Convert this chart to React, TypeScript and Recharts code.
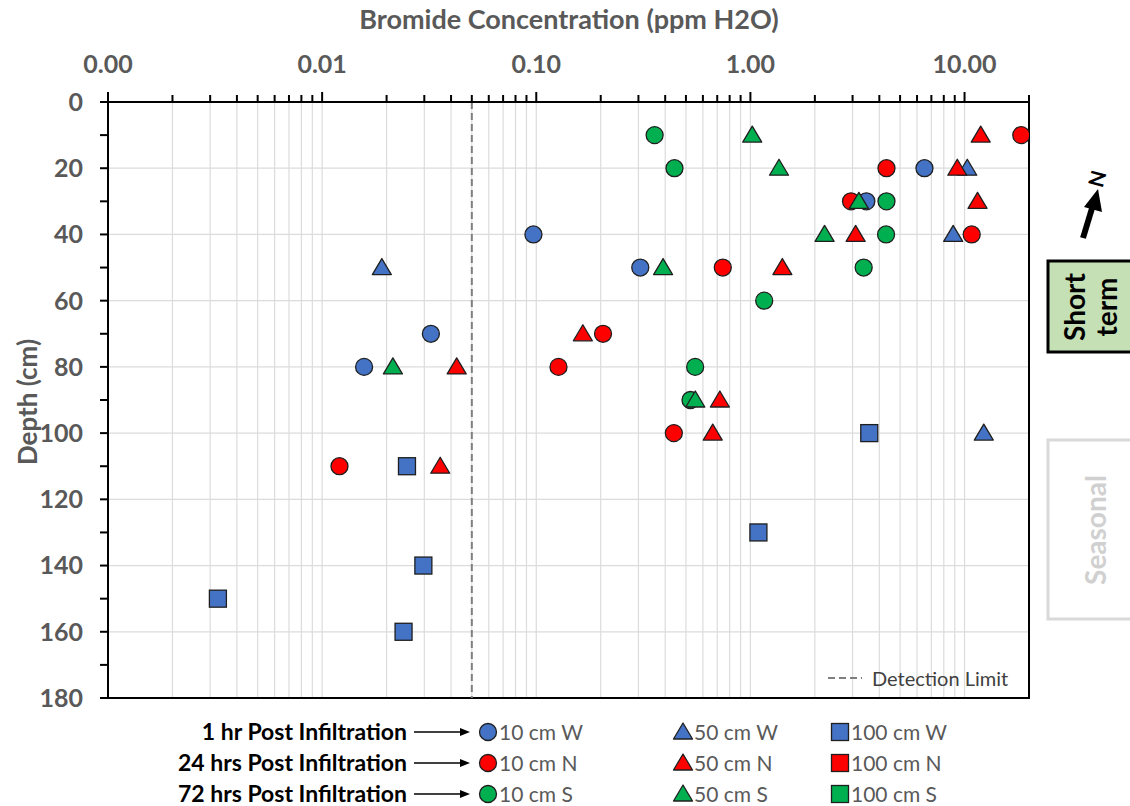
import React from 'react';
import {
  ScatterChart,
  Scatter,
  XAxis,
  YAxis,
  CartesianGrid,
  ReferenceLine,
  ReferenceArea,
} from 'recharts';

// ---------- data ----------
const W10_DEPTH = [20, 30, 40, 50, 70, 80];
const W10_CONC = [6.5, 3.48, 0.097, 0.306, 0.0322, 0.0157];

const W50_DEPTH = [20, 40, 50, 100];
const W50_CONC = [10.3, 8.85, 0.019, 12.3];

const W100_DEPTH = [100, 110, 130, 140, 150, 160];
const W100_CONC = [3.59, 0.0249, 1.09, 0.0297, 0.00326, 0.024];

const N10_DEPTH = [10, 20, 30, 40, 50, 70, 80, 100, 110];
const N10_CONC = [18.4, 4.32, 2.95, 10.8, 0.743, 0.205, 0.127, 0.439, 0.01205];

const N50_DEPTH = [10, 20, 30, 40, 50, 70, 80, 90, 100, 110];
const N50_CONC = [11.9, 9.25, 11.5, 3.1, 1.41, 0.165, 0.0425, 0.72, 0.667, 0.0356];

const N100_DEPTH: number[] = [];
const N100_CONC: number[] = [];

const S10_DEPTH = [10, 20, 30, 40, 50, 60, 80, 90];
const S10_CONC = [0.357, 0.442, 4.32, 4.3, 3.38, 1.16, 0.552, 0.525];

const S50_DEPTH = [10, 20, 30, 40, 50, 80, 90];
const S50_CONC = [1.02, 1.36, 3.21, 2.22, 0.391, 0.0214, 0.553];

const S100_DEPTH: number[] = [];
const S100_CONC: number[] = [];

const DETECTION_LIMIT = 0.05;

const X_TICKS = [
  0.001, 0.002, 0.003, 0.004, 0.005, 0.006, 0.007, 0.008, 0.009,
  0.01, 0.02, 0.03, 0.04, 0.05, 0.06, 0.07, 0.08, 0.09,
  0.1, 0.2, 0.3, 0.4, 0.5, 0.6, 0.7, 0.8, 0.9,
  1, 2, 3, 4, 5, 6, 7, 8, 9,
  10, 20,
];
const X_MAJOR = [0.001, 0.01, 0.1, 1, 10];
const X_DOMAIN = [0.001, 20];

const Y_TICKS = [0, 10, 20, 30, 40, 50, 60, 70, 80, 90, 100, 110, 120, 130, 140, 150, 160, 170, 180];
const Y_GRID = [20, 40, 60, 80, 100, 120, 140, 160];
const Y_DOMAIN = [0, 180];

const ROW_LABELS = ['1 hr Post Infiltration', '24 hrs Post Infiltration', '72 hrs Post Infiltration'];
const COL_LABELS = [
  ['10 cm W', '50 cm W', '100 cm W'],
  ['10 cm N', '50 cm N', '100 cm N'],
  ['10 cm S', '50 cm S', '100 cm S'],
];

// ---------- styles ----------
const BLUE = '#4472C4';
const RED = '#FF0000';
const GREEN = '#00B050';
const ROW_COLORS = [BLUE, RED, GREEN];
const EDGE = '#1f1f1f';
const FONT = 'Lato, "Open Sans", sans-serif';
const GRAY_TEXT = '#595959';

const W = 1130;
const H = 806;
const AXIS_Y = 102;

const build = (depth: number[], conc: number[]) =>
  depth.map((d, i) => ({ conc: conc[i], depth: d }));

type Kind = 'circle' | 'triangle' | 'square';

const Marker = ({ kind, cx, cy, fill }: { kind: Kind; cx: number; cy: number; fill: string }) => {
  if (kind === 'circle') {
    return <circle cx={cx} cy={cy} r={8.5} fill={fill} stroke={EDGE} strokeWidth={1.3} />;
  }
  if (kind === 'triangle') {
    return (
      <polygon
        points={`${cx},${cy - 9} ${cx - 9.5},${cy + 7} ${cx + 9.5},${cy + 7}`}
        fill={fill}
        stroke={EDGE}
        strokeWidth={1.3}
        strokeLinejoin="round"
      />
    );
  }
  return <rect x={cx - 8.5} y={cy - 8.5} width={17} height={17} fill={fill} stroke={EDGE} strokeWidth={1.3} />;
};

const shapeFor = (kind: Kind, fill: string) => (props: any) => {
  if (props.cx == null || props.cy == null) return <g />;
  return <Marker kind={kind} cx={props.cx} cy={props.cy} fill={fill} />;
};

const XTick = (props: any) => {
  const { x, payload } = props;
  const v = payload.value;
  const major = X_MAJOR.includes(v);
  const len = major ? 10 : 7;
  return (
    <g>
      <line x1={x} x2={x} y1={AXIS_Y + (major ? 1 : 0)} y2={AXIS_Y - len} stroke="#000" strokeWidth={2} />
      {major && (
        <text
          x={x}
          y={73}
          textAnchor="middle"
          fill={GRAY_TEXT}
          fontFamily={FONT}
          fontWeight={700}
          fontSize={25}
        >
          {v.toFixed(2)}
        </text>
      )}
    </g>
  );
};

const SERIES = [
  { name: '10 cm W', data: build(W10_DEPTH, W10_CONC), kind: 'circle' as Kind, color: BLUE },
  { name: '50 cm W', data: build(W50_DEPTH, W50_CONC), kind: 'triangle' as Kind, color: BLUE },
  { name: '100 cm W', data: build(W100_DEPTH, W100_CONC), kind: 'square' as Kind, color: BLUE },
  { name: '10 cm N', data: build(N10_DEPTH, N10_CONC), kind: 'circle' as Kind, color: RED },
  { name: '50 cm N', data: build(N50_DEPTH, N50_CONC), kind: 'triangle' as Kind, color: RED },
  { name: '100 cm N', data: build(N100_DEPTH, N100_CONC), kind: 'square' as Kind, color: RED },
  { name: '10 cm S', data: build(S10_DEPTH, S10_CONC), kind: 'circle' as Kind, color: GREEN },
  { name: '50 cm S', data: build(S50_DEPTH, S50_CONC), kind: 'triangle' as Kind, color: GREEN },
  { name: '100 cm S', data: build(S100_DEPTH, S100_CONC), kind: 'square' as Kind, color: GREEN },
];

const KINDS: Kind[] = ['circle', 'triangle', 'square'];
const ROW_Y = [731, 762, 793];
const COL_X = [488, 683, 840];

export default function App() {
  return (
    <div style={{ position: 'absolute', left: 0, top: 0, width: W, height: H, background: '#fff' }}>
      <ScatterChart
        width={W}
        height={H}
        margin={{ top: 0, right: 101, bottom: 108, left: 0 }}
      >
        <CartesianGrid
          stroke="#dcdcdc"
          strokeWidth={1.2}
          verticalValues={X_TICKS}
          horizontalValues={Y_GRID}
        />
        <XAxis
          type="number"
          dataKey="conc"
          orientation="top"
          scale="log"
          domain={X_DOMAIN}
          allowDataOverflow
          ticks={X_TICKS}
          interval={0}
          height={AXIS_Y}
          axisLine={{ stroke: '#000', strokeWidth: 2 }}
          tickLine={false}
          tick={<XTick />}
          label={{
            content: () => (
              <text
                x={569}
                y={29}
                textAnchor="middle"
                fill={GRAY_TEXT}
                fontFamily={FONT}
                fontWeight={700}
                fontSize={27}
              >
                Bromide Concentration (ppm H2O)
              </text>
            ),
          }}
        />
        <YAxis
          type="number"
          dataKey="depth"
          reversed
          domain={Y_DOMAIN}
          ticks={Y_TICKS}
          interval={0}
          width={108}
          axisLine={{ stroke: '#000', strokeWidth: 2 }}
          tickLine={{ stroke: '#000', strokeWidth: 2 }}
          tickSize={8}
          tickMargin={17}
          tickFormatter={(v: number) => (v % 20 === 0 ? String(v) : '')}
          tick={{ fill: GRAY_TEXT, fontFamily: FONT, fontWeight: 700, fontSize: 25 }}
          label={{
            content: () => (
              <text
                x={27}
                y={402}
                transform="rotate(-90 27 402)"
                textAnchor="middle"
                dominantBaseline="central"
                fill={GRAY_TEXT}
                fontFamily={FONT}
                fontWeight={700}
                fontSize={26}
              >
                Depth (cm)
              </text>
            ),
          }}
        />
        <ReferenceArea
          x1={X_DOMAIN[0]}
          x2={X_DOMAIN[1]}
          y1={Y_DOMAIN[0]}
          y2={Y_DOMAIN[1]}
          fill="none"
          fillOpacity={0}
          stroke="#000"
          strokeWidth={2}
        />
        <ReferenceLine x={DETECTION_LIMIT} stroke="#7f7f7f" strokeWidth={2} strokeDasharray="7 4" />
        {SERIES.map((s) => (
          <Scatter
            key={s.name}
            name={s.name}
            data={s.data}
            shape={shapeFor(s.kind, s.color)}
            isAnimationActive={false}
          />
        ))}
      </ScatterChart>

      <svg
        width={W}
        height={H}
        style={{ position: 'absolute', left: 0, top: 0, pointerEvents: 'none' }}
      >
        {/* Detection limit legend */}
        <line x1={828} x2={862} y1={678} y2={678} stroke="#7f7f7f" strokeWidth={2} strokeDasharray="7 4" />
        <text x={872} y={678} dominantBaseline="central" fontFamily={FONT} fontSize={20} fill="#404040">
          Detection Limit
        </text>

        {/* Bottom legend */}
        {ROW_LABELS.map((lbl, r) => (
          <g key={lbl}>
            <text
              x={407}
              y={ROW_Y[r]}
              textAnchor="end"
              dominantBaseline="central"
              fontFamily={FONT}
              fontWeight={700}
              fontSize={23}
              fill="#000"
            >
              {lbl}
            </text>
            <line x1={414} x2={462} y1={ROW_Y[r] + 1} y2={ROW_Y[r] + 1} stroke="#000" strokeWidth={1.6} />
            <polygon
              points={`${470},${ROW_Y[r] + 1} ${460},${ROW_Y[r] - 3} ${460},${ROW_Y[r] + 5}`}
              fill="#000"
            />
            {KINDS.map((k, c) => (
              <g key={k}>
                <Marker kind={k} cx={COL_X[c]} cy={ROW_Y[r] + 1} fill={ROW_COLORS[r]} />
                <text
                  x={COL_X[c] + 11}
                  y={ROW_Y[r]}
                  dominantBaseline="central"
                  fontFamily={FONT}
                  fontSize={21}
                  fill={GRAY_TEXT}
                >
                  {COL_LABELS[r][c]}
                </text>
              </g>
            ))}
          </g>
        ))}

        {/* North arrow */}
        <line x1={1083} y1={238} x2={1093} y2={205} stroke="#000" strokeWidth={6} />
        <polygon points="1098,189 1084,207 1102,212" fill="#000" />
        <text
          x={1098}
          y={179}
          transform="rotate(105 1098 179)"
          textAnchor="middle"
          dominantBaseline="central"
          fontFamily={FONT}
          fontWeight={700}
          fontSize={21}
          fill="#000"
        >
          N
        </text>

        {/* Short term box */}
        <rect x={1048} y={261} width={90} height={91} fill="#C5E0B4" stroke="#000" strokeWidth={3} />
        <text
          x={1074}
          y={307}
          transform="rotate(-90 1074 307)"
          textAnchor="middle"
          dominantBaseline="central"
          fontFamily={FONT}
          fontWeight={700}
          fontSize={28}
          fill="#000"
        >
          Short
        </text>
        <text
          x={1106}
          y={307}
          transform="rotate(-90 1106 307)"
          textAnchor="middle"
          dominantBaseline="central"
          fontFamily={FONT}
          fontWeight={700}
          fontSize={28}
          fill="#000"
        >
          term
        </text>

        {/* Seasonal box */}
        <rect x={1048} y={440} width={90} height={179} fill="#fff" stroke="#d9d9d9" strokeWidth={3} />
        <text
          x={1095}
          y={530}
          transform="rotate(-90 1095 530)"
          textAnchor="middle"
          dominantBaseline="central"
          fontFamily={FONT}
          fontWeight={700}
          fontSize={28}
          fill="#d0d0d0"
        >
          Seasonal
        </text>
      </svg>
    </div>
  );
}
